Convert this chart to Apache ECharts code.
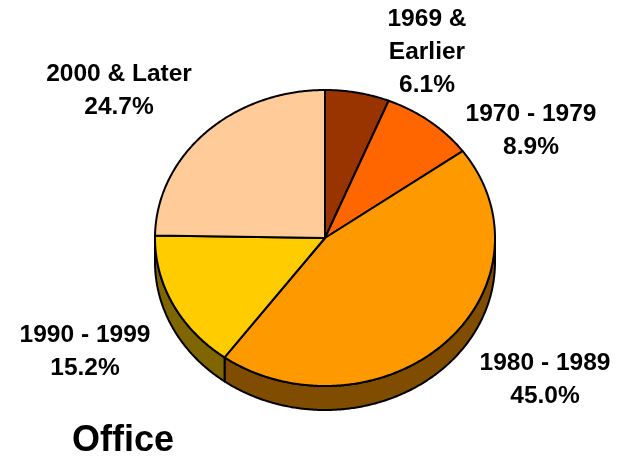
<!DOCTYPE html>
<html>
<head>
<meta charset="utf-8">
<script src="https://cdn.jsdelivr.net/npm/echarts@6/dist/echarts.min.js"></script>
<style>
html,body{margin:0;padding:0;background:#fff;}
#chart{width:621px;height:460px;}
</style>
</head>
<body>
<div id="chart"></div>
<script>
// ---- data ----
const categories = ['1969 & Earlier', '1970 - 1979', '1980 - 1989', '1990 - 1999', '2000 & Later'];
const labelNames = ['1969 &\nEarlier', '1970 - 1979', '1980 - 1989', '1990 - 1999', '2000 & Later'];
const values = [6.1, 8.9, 45.0, 15.2, 24.7];
const chartTitle = 'Office';

// ---- style / layout (kept separate from data) ----
const topColors = ['#993300', '#FF6600', '#FF9900', '#FFCC00', '#FFCC99'];
const sideColors = ['#4C1900', '#803300', '#804C00', '#806600', '#806650'];
const geom = { cx: 325, cy: 238, rx: 170, ry: 148, depth: 24 };
const labelAnchors = [[427, 52], [531, 131], [545, 380], [85, 352], [119, 91]];
const FONT = 'bold 24.5px "Liberation Sans", Arial, sans-serif';

const total = values.reduce((a, b) => a + b, 0);
function sliceAngles(i) {
  let before = 0;
  for (let k = 0; k < i; k++) before += values[k];
  const a = -Math.PI / 2 + before / total * Math.PI * 2;
  const b = a + values[i] / total * Math.PI * 2;
  return [a, b];
}
function arcPts(a, b, yOff) {
  const pts = [];
  const n = Math.max(2, Math.ceil((b - a) / (Math.PI / 360)));
  for (let k = 0; k <= n; k++) {
    const t = a + (b - a) * k / n;
    pts.push([geom.cx + geom.rx * Math.cos(t), geom.cy + yOff + geom.ry * Math.sin(t)]);
  }
  return pts;
}

const seriesData = categories.map((c, i) => ({ name: c, value: values[i] }));

const chart = echarts.init(document.getElementById('chart'), null, { renderer: 'canvas' });
chart.setOption({
  animation: false,
  backgroundColor: '#ffffff',
  series: [
    {
      type: 'custom',
      coordinateSystem: 'none',
      z: 1,
      data: seriesData,
      renderItem: function (params, api) {
        const i = params.dataIndex;
        const [a, b] = sliceAngles(i);
        const lo = Math.max(a, 0), hi = Math.min(b, Math.PI);
        if (hi <= lo) return { type: 'group', children: [] };
        const top = arcPts(lo, hi, 0);
        const bot = arcPts(lo, hi, geom.depth).reverse();
        return {
          type: 'polygon',
          shape: { points: top.concat(bot) },
          style: { fill: sideColors[i], stroke: '#000', lineWidth: 2, lineJoin: 'round' }
        };
      }
    },
    {
      type: 'custom',
      coordinateSystem: 'none',
      z: 2,
      data: seriesData,
      renderItem: function (params, api) {
        const i = params.dataIndex;
        const [a, b] = sliceAngles(i);
        const pts = [[geom.cx, geom.cy]].concat(arcPts(a, b, 0));
        const v = api.value(0);
        return {
          type: 'group',
          children: [
            {
              type: 'polygon',
              shape: { points: pts },
              style: { fill: topColors[i], stroke: '#000', lineWidth: 2, lineJoin: 'round' }
            },
            {
              type: 'text',
              style: {
                text: labelNames[i] + '\n' + v.toFixed(1) + '%',
                x: labelAnchors[i][0],
                y: labelAnchors[i][1],
                font: FONT,
                fill: '#000',
                align: 'center',
                verticalAlign: 'middle',
                lineHeight: 33
              }
            }
          ]
        };
      }
    }
  ],
  graphic: [
    {
      type: 'text',
      style: {
        text: chartTitle,
        x: 123,
        y: 441,
        font: 'bold 36px "Liberation Sans", Arial, sans-serif',
        fill: '#000',
        align: 'center',
        verticalAlign: 'middle'
      }
    }
  ]
});
</script>
</body>
</html>
